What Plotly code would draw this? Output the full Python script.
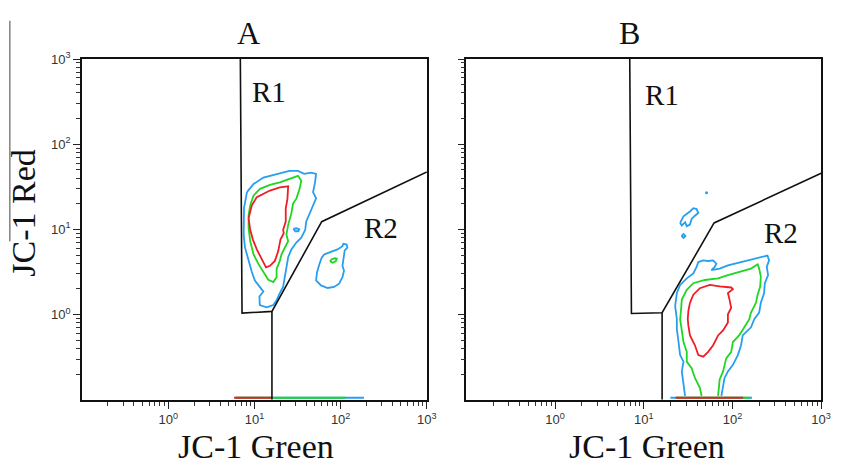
import numpy as np
import plotly.graph_objects as go

# ---------------- gates (data units) ----------------
A_GATE_X = [6.86, 7.18, 15.96, 60.3, 1000]
A_GATE_Y = [1000, 1.04, 1.09, 12.3, 47.3]
A_SPLIT_X = [15.96, 15.96]
A_SPLIT_Y = [1.09, 0.1]

B_GATE_X = [6.95, 7.26, 16.1, 62.1, 1000]
B_GATE_Y = [1000, 1.03, 1.05, 11.9, 45.6]
B_SPLIT_X = [16.1, 16.1]
B_SPLIT_Y = [1.05, 0.1]

# ---------------- contour outlines (log10 units) ----------------
# Panel A
A_BLUE_LX = [0.913, 0.990, 1.104, 1.257, 1.405, 1.505, 1.577, 1.657, 1.715, 1.703, 1.680,
             1.715, 1.680, 1.635, 1.600, 1.589, 1.543, 1.486, 1.428, 1.391, 1.371, 1.348,
             1.333, 1.291, 1.257, 1.219, 1.142, 1.062, 1.058, 1.104, 1.062, 1.005, 0.970,
             0.932, 0.890, 0.875, 0.875, 0.879]
A_BLUE_LY = [1.437, 1.533, 1.609, 1.649, 1.687, 1.687, 1.652, 1.667, 1.652, 1.552, 1.437,
             1.364, 1.283, 1.168, 1.091, 0.995, 0.903, 0.846, 0.765, 0.673, 0.558, 0.442,
             0.327, 0.247, 0.169, 0.112, 0.085, 0.112, 0.212, 0.270, 0.327, 0.400, 0.500,
             0.630, 0.788, 0.938, 1.091, 1.249]
A_BLUE_DOT_LX = [1.451, 1.486, 1.520, 1.509, 1.474]
A_BLUE_DOT_LY = [1.007, 1.013, 1.001, 0.978, 0.978]
A_BLUE_R2_LX = [1.810, 1.906, 1.963, 2.021, 2.032, 2.070, 2.078, 2.047, 2.032, 2.021, 2.039,
                2.021, 1.982, 1.924, 1.849, 1.772, 1.715, 1.726, 1.753, 1.780]
A_BLUE_R2_LY = [0.707, 0.745, 0.765, 0.803, 0.831, 0.823, 0.785, 0.753, 0.669, 0.573, 0.515,
                0.439, 0.362, 0.324, 0.312, 0.342, 0.400, 0.497, 0.592, 0.669]
A_GREEN_LX = [0.951, 0.990, 1.065, 1.180, 1.294, 1.409, 1.505, 1.543, 1.524, 1.486, 1.448,
              1.428, 1.391, 1.371, 1.391, 1.352, 1.314, 1.294, 1.257, 1.257, 1.219, 1.161,
              1.104, 1.047, 0.990, 0.951, 0.932, 0.932]
A_GREEN_LY = [1.283, 1.399, 1.476, 1.522, 1.552, 1.591, 1.629, 1.571, 1.476, 1.361, 1.303,
              1.188, 1.053, 0.938, 0.861, 0.785, 0.707, 0.630, 0.535, 0.439, 0.381, 0.408,
              0.497, 0.592, 0.707, 0.861, 1.015, 1.168]
A_GREEN_R2_LX = [1.875, 1.898, 1.932, 1.955, 1.944, 1.909]
A_GREEN_R2_LY = [0.627, 0.650, 0.661, 0.656, 0.627, 0.609]
A_RED_LX = [0.932, 0.970, 1.027, 1.180, 1.294, 1.391, 1.383, 1.363, 1.363, 1.333, 1.340,
            1.302, 1.276, 1.237, 1.180, 1.134, 1.085, 1.027, 0.982, 0.951]
A_RED_LY = [1.130, 1.283, 1.379, 1.456, 1.494, 1.506, 1.361, 1.245, 1.091, 0.995, 0.957,
            0.880, 0.745, 0.630, 0.573, 0.554, 0.650, 0.765, 0.880, 0.995]

# Panel B (outer contours run from the floor on the left round to the floor on the right)
B_BLUE_LX = [1.466, 1.448, 1.429, 1.448, 1.410, 1.392, 1.373, 1.373, 1.354, 1.373, 1.410,
             1.485, 1.559, 1.596, 1.615, 1.671, 1.726, 1.782, 1.819, 1.800, 1.763, 1.856,
             1.949, 2.097, 2.209, 2.320, 2.395, 2.413, 2.387, 2.402, 2.365, 2.357, 2.320,
             2.301, 2.246, 2.209, 2.116, 2.097, 2.061, 2.005, 1.949, 1.911, 1.894, 1.875]
B_BLUE_LY = [-0.954, -0.820, -0.667, -0.552, -0.475, -0.322, -0.169, -0.054, 0.100, 0.253,
             0.348, 0.425, 0.483, 0.560, 0.617, 0.636, 0.629, 0.636, 0.598, 0.560, 0.521,
             0.540, 0.578, 0.617, 0.644, 0.675, 0.693, 0.636, 0.560, 0.463, 0.368, 0.253,
             0.138, 0.023, -0.054, -0.149, -0.245, -0.360, -0.475, -0.590, -0.667, -0.744,
             -0.859, -0.954]
B_GREEN_LX = [1.652, 1.633, 1.577, 1.540, 1.485, 1.485, 1.448, 1.429, 1.410, 1.421, 1.429,
              1.485, 1.559, 1.689, 1.838, 1.949, 2.097, 2.209, 2.284, 2.301, 2.320, 2.313,
              2.284, 2.265, 2.209, 2.190, 2.134, 2.075, 2.005, 1.986, 1.930, 1.894, 1.856,
              1.838]
B_GREEN_LY = [-0.954, -0.859, -0.744, -0.629, -0.552, -0.437, -0.322, -0.169, -0.054, 0.061,
              0.176, 0.291, 0.368, 0.406, 0.425, 0.463, 0.502, 0.540, 0.590, 0.540, 0.445,
              0.330, 0.233, 0.138, 0.023, -0.054, -0.149, -0.245, -0.322, -0.437, -0.514,
              -0.667, -0.762, -0.954]
B_RED_LX = [1.521, 1.559, 1.633, 1.744, 1.856, 1.986, 2.005, 1.949, 1.967, 1.986, 1.949,
            1.949, 1.894, 1.838, 1.782, 1.726, 1.671, 1.615, 1.577, 1.521, 1.503, 1.496,
            1.503]
B_RED_LY = [0.138, 0.233, 0.310, 0.348, 0.330, 0.318, 0.299, 0.253, 0.176, 0.080, 0.003,
            -0.092, -0.187, -0.245, -0.360, -0.437, -0.494, -0.475, -0.360, -0.245, -0.130,
            -0.054, 0.043]
B_BLUE_R1_LX = [1.410, 1.448, 1.521, 1.559, 1.596, 1.615, 1.577, 1.540, 1.521, 1.485, 1.466,
                1.429]
B_BLUE_R1_LY = [1.077, 1.153, 1.210, 1.249, 1.238, 1.192, 1.161, 1.123, 1.057, 1.038, 1.084,
                1.046]
B_BLUE_RING_LX = [1.426, 1.448, 1.470, 1.448]
B_BLUE_RING_LY = [0.923, 0.946, 0.923, 0.900]
B_BLUE_SPECK_LX = [1.708]
B_BLUE_SPECK_LY = [1.429]

# Events piled on the floor of each plot (log10 x start/end per colour, drawn in this order)
A_FLOOR = [("blue", 0.78, 2.27), ("green", 0.78, 2.06), ("red", 0.764, 1.20)]
B_FLOOR = [("blue", 1.30, 2.22), ("green", 1.36, 2.20), ("red", 1.36, 2.12)]
FLOOR_LY = -0.975

# ---------------- axes text ----------------
MAJOR_VALS = [1, 10, 100, 1000]
MAJOR_TEXT = ["10<sup>0</sup>", "10<sup>1</sup>", "10<sup>2</sup>", "10<sup>3</sup>"]
MINOR_VALS = [m * 10.0 ** d for d in (-1, 0, 1, 2) for m in range(2, 10)]

BLUE = "#279ff0"
GREEN = "#1fd620"
RED = "#f01d25"
COLORS = {"blue": BLUE, "green": GREEN, "red": RED}

SERIF = "Liberation Serif, Times New Roman, serif"
SANS = "Liberation Sans, Arial, sans-serif"

W, H = 842, 464


def closed(seq):
    return list(seq) + [seq[0]]


def line_trace(lx, ly, color, xa, ya, width=1.8, close=True):
    xs = closed(lx) if close else list(lx)
    ys = closed(ly) if close else list(ly)
    return go.Scatter(x=10 ** np.array(xs), y=10 ** np.array(ys), mode="lines",
                      line=dict(color=color, width=width), xaxis=xa, yaxis=ya,
                      hoverinfo="skip", showlegend=False)


fig = go.Figure()

# --- panel A ---
for lx, ly, c in [
    (A_BLUE_LX, A_BLUE_LY, BLUE),
    (A_BLUE_DOT_LX, A_BLUE_DOT_LY, BLUE),
    (A_BLUE_R2_LX, A_BLUE_R2_LY, BLUE),
    (A_GREEN_LX, A_GREEN_LY, GREEN),
    (A_GREEN_R2_LX, A_GREEN_R2_LY, GREEN),
    (A_RED_LX, A_RED_LY, RED),
]:
    fig.add_trace(line_trace(lx, ly, c, "x", "y"))
for name, x0, x1 in A_FLOOR:
    fig.add_trace(line_trace([x0, x1], [FLOOR_LY, FLOOR_LY], COLORS[name], "x", "y",
                             width=2, close=False))

# --- panel B ---
for lx, ly, c, cl in [
    (B_BLUE_LX, B_BLUE_LY, BLUE, False),
    (B_BLUE_R1_LX, B_BLUE_R1_LY, BLUE, True),
    (B_BLUE_RING_LX, B_BLUE_RING_LY, BLUE, True),
    (B_GREEN_LX, B_GREEN_LY, GREEN, False),
    (B_RED_LX, B_RED_LY, RED, True),
]:
    fig.add_trace(line_trace(lx, ly, c, "x2", "y2", close=cl))
fig.add_trace(go.Scatter(x=10 ** np.array(B_BLUE_SPECK_LX), y=10 ** np.array(B_BLUE_SPECK_LY),
                         mode="markers", marker=dict(color=BLUE, size=3),
                         xaxis="x2", yaxis="y2", hoverinfo="skip", showlegend=False))
for name, x0, x1 in B_FLOOR:
    fig.add_trace(line_trace([x0, x1], [FLOOR_LY, FLOOR_LY], COLORS[name], "x2", "y2",
                             width=2, close=False))

# --- gates ---
for gx, gy, sx, sy, xa, ya in [
    (A_GATE_X, A_GATE_Y, A_SPLIT_X, A_SPLIT_Y, "x", "y"),
    (B_GATE_X, B_GATE_Y, B_SPLIT_X, B_SPLIT_Y, "x2", "y2"),
]:
    fig.add_trace(go.Scatter(x=gx, y=gy, mode="lines", line=dict(color="#111", width=1.6),
                             xaxis=xa, yaxis=ya, hoverinfo="skip", showlegend=False))
    fig.add_trace(go.Scatter(x=sx, y=sy, mode="lines", line=dict(color="#111", width=1.6),
                             xaxis=xa, yaxis=ya, hoverinfo="skip", showlegend=False))


def axis(domain, anchor, labels=True):
    return dict(
        type="log", range=[-1, 3], domain=domain, anchor=anchor,
        showgrid=False, zeroline=False,
        showline=True, mirror=True, linecolor="#111", linewidth=1.6,
        ticks="outside", ticklen=7, tickwidth=1.2, tickcolor="#222",
        tickvals=MAJOR_VALS, ticktext=MAJOR_TEXT, showticklabels=labels,
        tickfont=dict(family=SANS, size=13, color="#333"),
        minor=dict(tickvals=MINOR_VALS, ticks="outside", ticklen=4, tickwidth=1,
                   tickcolor="#333"),
    )


Y_DOM = [1 - 398.5 / H, 1 - 51 / H]
fig.update_layout(
    width=W, height=H, margin=dict(l=0, r=0, t=0, b=0),
    paper_bgcolor="white", plot_bgcolor="white",
    xaxis=axis([83 / W, 432 / W], "y"),
    yaxis=axis(Y_DOM, "x"),
    xaxis2=axis([472 / W, 831 / W], "y2"),
    yaxis2=axis(Y_DOM, "x2", labels=False),
)

ann = []


def text(s, px, py, size, angle=0):
    ann.append(dict(text=s, x=px / W, y=1 - py / H, xref="paper", yref="paper",
                    xanchor="center", yanchor="middle", showarrow=False, textangle=angle,
                    font=dict(family=SERIF, size=size, color="#111")))


text("A", 251, 24, 32)
text("B", 637, 24, 32)
text("R1", 272, 85, 29)
text("R2", 386, 223, 29)
text("R1", 670, 88, 29)
text("R2", 790, 228, 29)
text("JC-1 Green", 259, 446, 34)
text("JC-1 Green", 655, 446, 34)
text("JC-1 Red", 24, 208, 34, angle=-90)
fig.update_layout(annotations=ann)

fig.add_shape(type="line", xref="paper", yref="paper",
              x0=10 / W, x1=10 / W, y0=1 - 12 / H, y1=1 - 237 / H,
              line=dict(color="#444", width=1))

fig.write_html("out.html")
